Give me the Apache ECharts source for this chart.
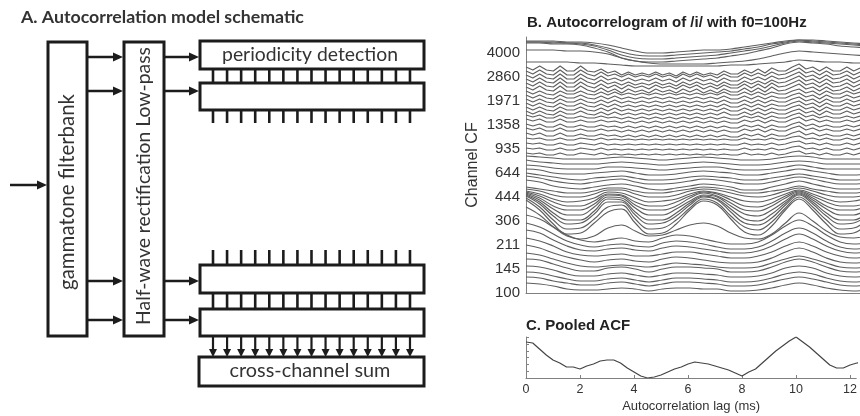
<!DOCTYPE html>
<html><head><meta charset="utf-8">
<script src="https://cdn.jsdelivr.net/npm/echarts@6/dist/echarts.min.js"></script>
<style>html,body{margin:0;padding:0;background:#fff}#c{width:860px;height:416px}</style>
</head><body><div id="c"></div><script>
// ---------- data ----------
const cfLabels = ['100','145','211','306','444','644','935','1358','1971','2860','4000'];
const lagTicks = [0,2,4,6,8,10,12];
const lagCoarse = [0,0.5,1,1.5,2,2.5,3,3.5,4,4.5,5,5.5,6,6.5,7,7.5,8,8.5,9,9.5,10,10.5,11,11.5,12,12.5];
const lagFine = [0,0.25,0.5,0.75,1,1.25,1.5,1.75,2,2.25,2.5,2.75,3,3.25,3.5,3.75,4,4.25,4.5,4.75,5,5.25,5.5,5.75,6,6.25,6.5,6.75,7,7.25,7.5,7.75,8,8.25,8.5,8.75,9,9.25,9.5,9.75,10,10.25,10.5,10.75,11,11.25,11.5,11.75,12,12.25,12.5];

// autocorrelogram rows (display height), lowest channel first
const lowRows = [
[10,9,7,4,3,3,4,5,4,2,4,5,5,4,4,2,2,3,5,8,10,8,5,3,2,3],
[16,15,12,10,8,8,10,11,9,7,9,11,11,10,9,7,7,8,11,14,16,14,11,8,7,8],
[21,20,17,14,12,12,14,15,13,11,13,15,15,14,13,11,11,12,15,19,21,19,15,12,11,12],
[27,26,23,19,17,17,19,20,18,16,18,20,20,19,18,16,16,17,20,25,27,25,20,17,16,17],
[34,33,29,25,22,22,25,26,24,21,24,26,26,25,24,21,21,22,26,31,34,31,26,22,21,22],
[40,38,34,30,27,26,27,28,27,26,28,30,29,28,26,25,25,26,30,34,37,34,30,26,25,26],
[48,45,40,36,33,31,33,34,32,31,34,36,35,33,31,30,30,31,35,41,45,41,35,31,30,31],
[55,52,47,41,38,37,38,39,37,37,39,41,41,39,37,35,35,37,41,47,51,47,41,37,35,36],
[63,60,53,47,43,42,44,45,43,42,45,47,46,44,42,40,40,42,47,54,59,54,47,42,40,41],
[70,66,59,52,48,46,48,49,47,46,50,52,51,49,46,44,44,46,52,60,65,60,52,46,44,45],
[78,74,66,58,53,51,53,55,52,51,55,58,57,54,51,49,49,51,58,67,73,67,58,51,49,50]
];
const f1Rows = [
[86,78,66,57,54,57,65,68,62,57,58,63,68,70,67,60,55,54,59,70,80,72,62,56,55,58],
[93,83,69,59,60,70,81,84,70,59,60,69,83,92,88,74,61,58,67,83,94,83,69,59,60,70],
[95,86,73,64,65,74,86,88,74,64,65,73,85,94,90,77,66,63,71,85,96,86,73,64,65,74],
[97,89,77,69,70,79,91,91,78,69,70,77,88,96,93,81,70,68,75,88,98,89,77,69,70,78],
[98,91,80,73,73,82,94,93,81,73,73,80,90,97,94,84,74,72,79,90,99,91,80,73,73,81],
[99,93,84,78,78,86,96,95,85,78,78,84,92,98,96,87,79,77,83,92,100,93,84,78,78,85],
[100,95,87,83,83,89,98,97,88,83,83,87,95,100,97,90,83,82,87,95,101,95,87,83,83,88],
[101,97,91,87,87,92,99,98,91,87,87,91,97,101,99,93,87,86,90,97,102,97,91,87,87,91],
[102,99,94,91,92,95,101,100,95,91,92,94,99,102,100,96,92,91,94,99,103,99,94,91,92,95],
[104,102,98,96,96,99,103,103,99,96,96,98,102,104,103,100,97,96,98,102,105,102,98,96,96,99],
[106,104,102,100,100,102,105,105,102,100,100,102,104,106,105,103,100,100,102,104,107,104,102,100,100,102]
];
const midRows = [
[113,111,107,105,104,106,108,109,107,104,103,105,107,109,108,106,103,103,106,109,112,109,106,104,104,105],
[117,115,112,110,109,111,113,114,111,109,109,110,112,114,113,111,109,109,111,114,116,114,111,109,109,110],
[120,118,116,114,113,115,116,117,115,113,113,114,116,117,116,115,113,113,115,117,119,117,115,113,113,114],
[124,123,120,119,119,120,121,122,120,118,118,119,121,122,121,120,118,118,120,122,124,122,120,118,118,119],
[128,127,125,124,124,124,126,126,125,124,123,124,125,126,126,124,123,123,124,126,128,126,124,124,124,124],
[133,131,130,129,129,129,130,131,130,129,128,129,130,131,130,129,128,128,129,131,132,131,129,129,129,129],
[137,136,135,134,134,134,135,136,135,134,133,134,135,136,135,134,133,133,134,136,137,136,134,134,134,134]
];
const zigRows = [
[140,139,140,138,138,140,138,138,140,139,138,140,138,139,138,139,138,139,138,139,138,139,138,139,138,139,138,139,138,139,138,138,140,138,139,138,140,138,139,141,142,139,140,138,140,138,138,140,138,140,138],
[145,144,145,143,143,145,143,143,145,144,143,145,143,144,143,144,143,144,143,144,143,144,143,144,143,144,143,144,143,144,143,143,145,143,144,143,145,143,144,146,147,144,145,143,145,143,143,145,143,145,143],
[150,149,150,148,148,150,148,148,150,149,148,150,148,149,148,149,148,149,148,149,148,149,148,149,148,149,148,149,148,149,148,148,150,148,149,148,150,148,149,151,152,149,150,148,150,148,148,150,148,150,148],
[155,154,155,153,153,155,153,153,155,154,153,155,153,154,153,154,153,154,153,154,153,154,153,154,153,154,153,154,153,154,153,153,155,153,154,153,155,153,154,156,157,154,155,153,155,153,153,155,153,155,153],
[160,158,160,157,157,160,157,157,159,157,157,159,157,158,156,158,156,158,156,158,156,158,156,158,156,158,156,158,156,158,156,156,159,157,159,156,159,157,157,160,162,158,160,157,159,157,157,159,157,159,157],
[165,163,165,162,162,165,162,162,164,162,162,164,162,163,161,163,161,163,161,163,161,163,161,163,161,163,161,163,161,163,161,161,164,162,164,161,164,162,162,165,167,163,165,162,164,162,162,164,162,164,162],
[169,167,169,166,166,169,166,166,168,166,166,168,166,167,165,167,165,167,165,167,165,167,165,167,165,167,165,167,165,167,165,165,168,166,168,165,168,166,166,169,171,167,169,166,168,166,166,168,166,168,166],
[174,172,174,171,171,174,171,171,173,171,171,173,171,172,170,172,170,172,170,172,170,172,170,172,170,172,170,172,170,172,170,170,173,171,173,170,173,171,171,174,176,172,174,171,173,171,171,173,171,173,171],
[178,176,178,175,175,178,175,175,177,175,175,177,175,176,174,176,174,176,174,176,174,176,174,176,174,176,174,176,174,176,174,174,177,175,177,174,177,175,175,178,180,176,178,175,177,175,175,177,175,177,175],
[182,179,182,179,178,182,179,179,182,179,178,181,178,181,178,180,178,180,178,180,178,180,178,180,178,180,178,180,178,181,178,178,181,178,181,178,181,179,179,182,184,180,182,178,182,179,179,182,179,181,179],
[186,183,186,183,182,186,183,183,186,183,182,185,182,185,182,184,182,184,182,184,182,184,182,184,182,184,182,184,182,185,182,182,185,182,185,182,185,183,183,186,188,184,186,182,186,183,183,186,183,185,183],
[190,187,190,187,186,190,187,187,190,187,186,189,186,189,186,188,186,188,186,188,186,188,186,188,186,188,186,188,186,189,186,186,189,186,189,186,189,187,187,190,192,188,190,186,190,187,187,190,187,189,187],
[194,191,194,191,190,194,191,191,194,191,190,193,190,193,190,192,190,192,190,192,190,192,190,192,190,192,190,192,190,193,190,190,193,190,193,190,193,191,191,194,196,192,194,190,194,191,191,194,191,193,191],
[198,195,198,195,194,198,195,195,198,195,194,197,194,197,194,196,194,196,194,196,194,196,194,196,194,196,194,196,194,197,194,194,197,194,197,194,197,195,195,198,200,196,198,194,198,195,195,198,195,197,195],
[202,199,202,199,198,202,199,199,202,199,198,201,198,201,198,200,198,200,198,200,198,200,198,200,198,200,198,200,198,201,198,198,201,198,201,198,201,199,199,202,204,200,202,198,202,199,199,202,199,201,199],
[206,203,207,203,202,207,202,202,207,203,201,205,201,204,200,204,201,203,200,204,201,203,200,204,201,204,200,203,200,204,201,201,205,201,205,201,206,202,203,206,209,204,206,202,206,202,203,206,202,205,202],
[210,207,211,207,206,211,206,206,211,207,205,209,205,208,204,208,205,207,204,208,205,207,204,208,205,208,204,207,204,208,205,205,209,205,209,205,210,206,207,210,213,208,210,206,210,206,207,210,206,209,206],
[214,211,215,211,210,215,210,210,215,211,209,213,209,211,208,211,208,210,208,211,208,210,207,211,208,211,208,210,207,211,208,208,212,209,212,209,213,210,211,214,217,212,214,210,214,210,211,214,210,213,210],
[218,215,219,215,214,219,214,214,219,215,213,217,213,215,212,215,212,214,212,215,212,214,211,215,212,215,212,214,211,215,212,212,216,213,216,213,217,214,215,218,221,216,218,214,218,214,215,218,214,217,214],
[222,219,223,219,218,223,218,218,223,219,217,221,217,219,216,219,216,218,216,219,216,218,215,219,216,219,216,218,215,219,216,216,220,217,220,217,221,218,219,222,225,220,222,218,222,218,219,222,218,221,218],
[226,223,227,223,222,227,222,222,227,222,221,224,220,222,218,221,218,220,218,221,218,220,217,221,218,221,218,220,218,222,219,219,223,220,224,220,225,222,222,226,229,224,226,222,226,222,222,226,222,225,222]
];
const topRows = [
[231,231,231,231,230,230,229,228,227,227,227,227,227,227,227,228,228,229,230,231,233,232,231,231,230,230],
[243,243,243,242,242,241,239,235,232,230,229,229,229,229,230,231,232,234,237,240,242,241,240,239,238,237],
[250,250,249,249,248,245,241,235,232,231,231,232,233,234,235,237,239,242,245,249,251,250,249,247,246,245],
[251,251,250,250,249,247,243,238,235,234,234,235,236,237,238,240,242,244,247,250,252,251,250,249,248,247],
[251,251,251,250,250,248,245,241,238,237,237,238,239,240,241,242,244,246,249,251,253,252,251,250,249,248],
[252,252,252,251,251,250,248,245,242,240,240,241,242,243,243,244,246,248,250,252,253,253,252,251,250,249]
];
const pooledAcf = [36,35,29,23,18,15,11,11,9,12,14,17,18,18,15,10,6,2,0,1,3,6,9,11,14,16,15,14,12,10,8,5,2,6,9,15,21,27,32,37,41,36,31,25,19,13,10,10,13,15,16];

// ---------- series ----------
const series = [];
function addRows(rows, lags, smooth) {
  rows.forEach(r => series.push({
    type:'line', xAxisIndex:0, yAxisIndex:0, symbol:'none', silent:true, smooth:smooth,
    data: r.map((v,i)=>[lags[i], v]),
    lineStyle:{color:'#5e5e5e', width:1.15}
  }));
}
addRows(lowRows, lagCoarse, 0.4);
addRows(f1Rows, lagCoarse, 0.4);
addRows(midRows, lagCoarse, 0.4);
addRows(zigRows, lagFine, false);
addRows(topRows, lagCoarse, 0.3);
series.push({type:'line', xAxisIndex:1, yAxisIndex:1, symbol:'none', silent:true,
  data: pooledAcf.map((v,i)=>[lagFine[i], v]), lineStyle:{color:'#444', width:1.2}});

// ---------- schematic (graphic) ----------
const mctx = document.createElement('canvas').getContext('2d');
const FAM = 'Lato';
function fit(t, w, target){ mctx.font = w+' 100px '+FAM; return 100*target/mctx.measureText(t).width; }
const G = [];
const S = '#1c1c1c';
function line(x1,y1,x2,y2,w){G.push({type:'line',silent:true,shape:{x1,y1,x2,y2},style:{stroke:S,lineWidth:w||2.5}});}
function rect(x,y,w,h){G.push({type:'rect',silent:true,shape:{x,y,width:w,height:h},style:{fill:'#fff',stroke:S,lineWidth:3}});}
function arrowR(x1,x2,y){line(x1,y,x2-8,y,2.5);G.push({type:'polygon',silent:true,shape:{points:[[x2,y],[x2-10,y-4.5],[x2-10,y+4.5]]},style:{fill:S}});}
function arrowD(x,y1,y2){line(x,y1,x,y2-6,2.2);G.push({type:'polygon',silent:true,shape:{points:[[x,y2],[x-4,y2-8],[x+4,y2-8]]},style:{fill:S}});}
function txt(t,x,y,target,weight,rot,align){
  const fs = fit(t, weight, target);
  G.push({type:'text',silent:true,x,y,rotation:rot||0,style:{text:t,fontSize:fs,fontWeight:weight,fontFamily:FAM,fill:'#333',
    align:align||'center',verticalAlign:'middle',textAlign:align||'center',textVerticalAlign:'middle'}});
}
const combX = [];
for (let i=0;i<15;i++) combX.push(213 + i*14.07);
combX.forEach(x=>{ line(x,68,x,84,2.6); line(x,110,x,123,2.6); line(x,250,x,266,2.6); line(x,292,x,310,2.6); arrowD(x,336,357); });
rect(48,42,39,294); rect(124,42,40,294);
rect(200,41,224,28); rect(200,83,224,27); rect(200,265,224,28); rect(200,309,224,27); rect(199,357,225,29);
arrowR(10,47,185);
[57,91,281,320].forEach(y=>{ arrowR(87,123,y); arrowR(164,199,y); });
txt('A. Autocorrelation model schematic',21,17,283,'bold',0,'left');
txt('periodicity detection',310,55,176,'normal');
txt('cross-channel sum',310,371,161,'normal');
txt('gammatone filterbank',67,192,196,'normal',Math.PI/2);
txt('Half-wave rectification Low-pass',144,186,278,'normal',Math.PI/2);

// ---------- chart ----------
const AX = '#808080';
const XMAX = 12.23;
const chart = echarts.init(document.getElementById('c'));
chart.setOption({
  animation:false,
  textStyle:{fontFamily:'Liberation Sans'},
  title:[
    {text:'B. Autocorrelogram of /i/ with f0=100Hz', left:527, top:15, padding:0,
     textStyle:{fontSize:15,fontWeight:'bold',color:'#222',fontFamily:'Liberation Sans'}},
    {text:'C. Pooled ACF', left:526, top:318, padding:0,
     textStyle:{fontSize:15,fontWeight:'bold',color:'#222',fontFamily:'Liberation Sans'}}
  ],
  grid:[{left:526,top:37,right:0,height:256},{left:526,top:337,right:0,height:41}],
  xAxis:[
    {gridIndex:0,type:'value',min:0,max:XMAX,interval:2,axisLine:{lineStyle:{color:AX}},axisTick:{show:false},axisLabel:{show:false},splitLine:{show:false}},
    {gridIndex:1,type:'value',min:0,max:XMAX,interval:2,axisLine:{lineStyle:{color:AX}},
     axisTick:{inside:true,length:3,lineStyle:{color:AX}},
     axisLabel:{fontSize:12.5,color:'#333',margin:5,showMaxLabel:false,formatter:v=>lagTicks.includes(v)?String(v):''},
     splitLine:{show:false},name:'Autocorrelation lag (ms)',nameLocation:'middle',nameGap:22,
     nameTextStyle:{fontSize:13,color:'#333'}}
  ],
  yAxis:[
    {gridIndex:0,type:'value',min:0,max:256,interval:24,axisLine:{show:true,lineStyle:{color:AX}},axisTick:{show:false},
     axisLabel:{fontSize:15,color:'#333',margin:6,showMaxLabel:false,formatter:v=>{const i=Math.round(v/24);return (Math.abs(v-i*24)<0.01&&i<cfLabels.length)?cfLabels[i]:'';}},
     splitLine:{show:false},name:'Channel CF',nameLocation:'middle',nameGap:45,nameTextStyle:{fontSize:16,color:'#333'}},
    {gridIndex:1,type:'value',min:0,max:41,interval:6.8,axisLine:{show:true,lineStyle:{color:AX}},
     axisTick:{inside:true,length:3,lineStyle:{color:AX}},axisLabel:{show:false},splitLine:{show:false}}
  ],
  series,
  graphic:{elements:G}
});
</script></body></html>
